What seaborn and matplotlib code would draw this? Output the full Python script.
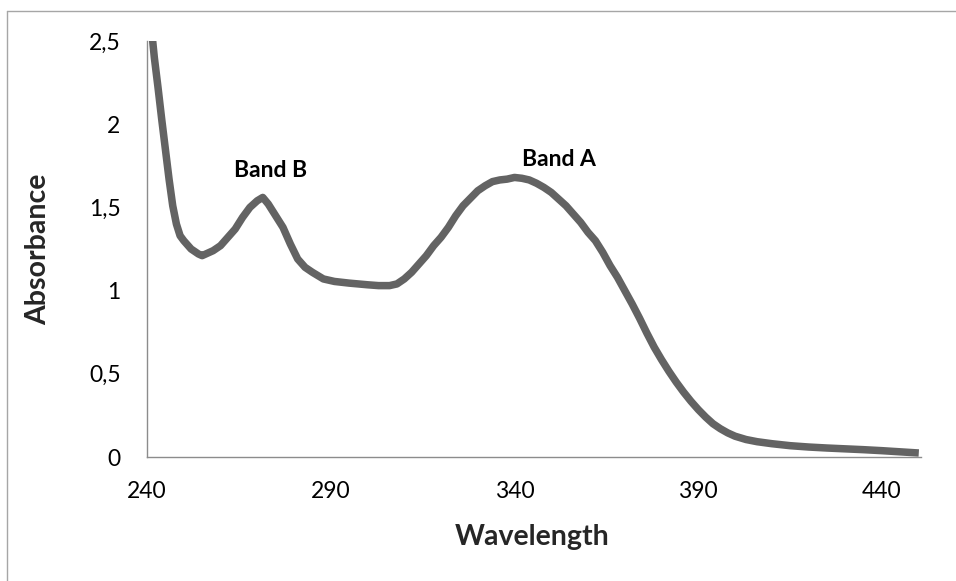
import matplotlib
matplotlib.use("Agg")
import matplotlib.pyplot as plt
from matplotlib.lines import Line2D
from matplotlib.ticker import FuncFormatter
import seaborn as sns
import pandas as pd

wavelength = [240, 241, 242, 243, 244, 245, 246, 247, 248, 249, 250, 252, 254, 255, 256, 258,
              260, 262, 264, 266, 268, 270, 271.5, 273, 275, 277, 279, 281, 283, 285, 288, 291,
              295, 300, 303, 306, 308, 310, 312, 314, 316, 318, 320, 322, 324, 326, 328, 330,
              332, 334, 336, 338, 340, 342, 344, 346, 348, 350, 352, 354, 356, 358, 360, 362,
              364, 366, 368, 370, 372, 374, 376, 378, 380, 382, 384, 386, 388, 390, 392, 394,
              396, 398, 400, 403, 406, 410, 415, 420, 425, 430, 435, 440, 445, 450]
absorbance = [2.85, 2.62, 2.40, 2.22, 2.03, 1.85, 1.67, 1.51, 1.40, 1.33, 1.30, 1.25, 1.22, 1.21,
              1.22, 1.24, 1.27, 1.32, 1.37, 1.44, 1.50, 1.54, 1.56, 1.52, 1.45, 1.38, 1.28, 1.19,
              1.14, 1.11, 1.07, 1.055, 1.045, 1.035, 1.03, 1.03, 1.04, 1.07, 1.11, 1.16, 1.21,
              1.27, 1.32, 1.38, 1.45, 1.51, 1.555, 1.60, 1.63, 1.655, 1.665, 1.67, 1.68, 1.675,
              1.665, 1.645, 1.62, 1.59, 1.55, 1.51, 1.46, 1.41, 1.35, 1.30, 1.23, 1.15, 1.08,
              1.00, 0.92, 0.835, 0.745, 0.66, 0.585, 0.515, 0.45, 0.39, 0.335, 0.285, 0.24, 0.20,
              0.17, 0.145, 0.125, 0.105, 0.092, 0.08, 0.068, 0.06, 0.054, 0.049, 0.044, 0.038,
              0.031, 0.024]
x_ticks = [240, 290, 340, 390, 440]
y_ticks = [0, 0.5, 1, 1.5, 2, 2.5]
band_labels = ["Band B", "Band A"]
band_x = [273.5, 352.0]
band_y = [1.72, 1.79]

df = pd.DataFrame({"Wavelength": wavelength, "Absorbance": absorbance})

sns.set_theme(style="white")
plt.rcParams["font.family"] = ["Lato", "DejaVu Sans"]

fig = plt.figure(figsize=(9.56, 5.81), dpi=100)
ax = fig.add_axes([147 / 956, (581 - 457) / 581, (921 - 147) / 956, (457 - 41) / 581])

sns.lineplot(data=df, x="Wavelength", y="Absorbance", ax=ax, color="#636363",
             linewidth=5.4, solid_capstyle="butt", solid_joinstyle="round")

ax.set_xlim(240, 450.6)
ax.set_ylim(0, 2.5)
ax.set_xticks(x_ticks)
ax.set_yticks(y_ticks)
ax.yaxis.set_major_formatter(FuncFormatter(lambda v, p: ("%g" % v).replace(".", ",")))
ax.tick_params(axis="both", length=0, labelsize=16.5, colors="black")
ax.tick_params(axis="y", pad=19)
ax.tick_params(axis="x", pad=17)

for s in ["top", "right"]:
    ax.spines[s].set_visible(False)
for s in ["left", "bottom"]:
    ax.spines[s].set_color("#8c8c8c")
    ax.spines[s].set_linewidth(1.0)

ax.set_xlabel("Wavelength", fontsize=20.5, fontweight="bold")
ax.set_ylabel("Absorbance", fontsize=20.5, fontweight="bold")
ax.xaxis.set_label_coords((532 - 147) / 774, -(524 - 457) / 416)
ax.yaxis.set_label_coords(-(147 - 51) / 774, (457 - 249) / 416)

for lbl, bx, by in zip(band_labels, band_x, band_y):
    ax.text(bx, by, lbl, ha="center", va="center", fontsize=16.5, fontweight="bold", color="black")

# outer chart border
fig.add_artist(Line2D([7 / 956, 7 / 956], [0, 1 - 11 / 581], transform=fig.transFigure,
                      color="#a6a6a6", linewidth=1.0))
fig.add_artist(Line2D([7 / 956, 1], [1 - 11 / 581, 1 - 11 / 581], transform=fig.transFigure,
                      color="#a6a6a6", linewidth=1.0))

fig.savefig("out.png", dpi=100)
